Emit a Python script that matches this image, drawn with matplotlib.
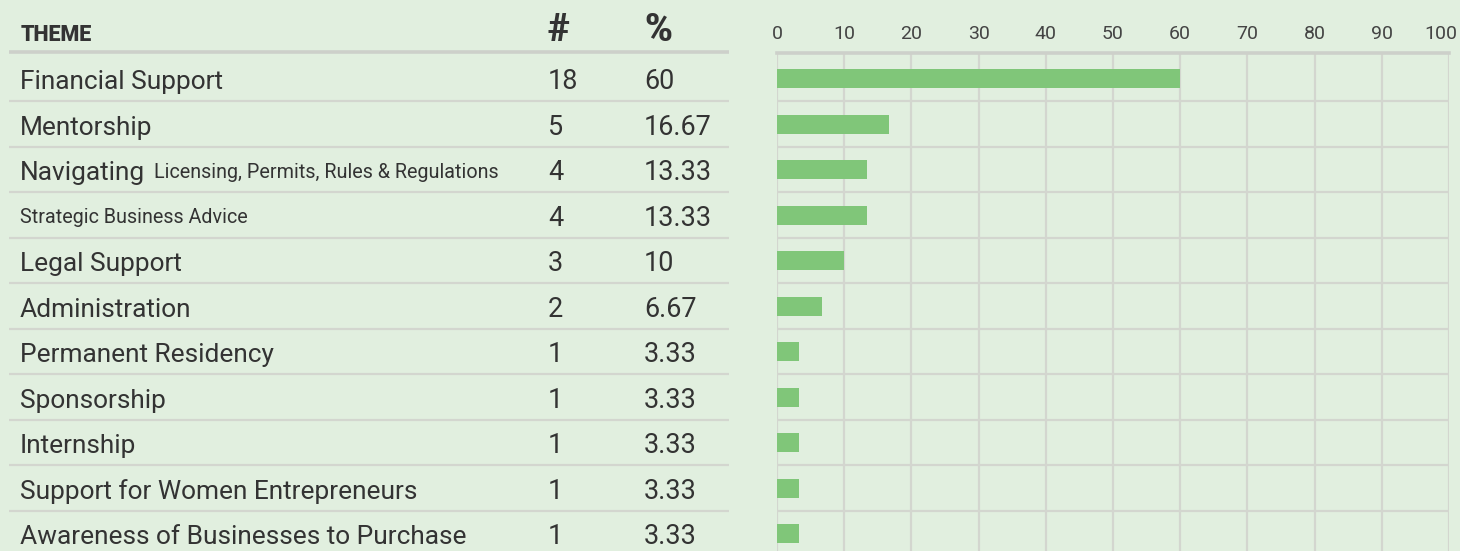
import numpy as np
import matplotlib
matplotlib.use('Agg')
from matplotlib import pyplot as plt
from matplotlib.transforms import ScaledTranslation

# table / chart data
themes_big = ['Financial Support', 'Mentorship', 'Navigating', '', 'Legal Support',
              'Administration', 'Permanent Residency', 'Sponsorship', 'Internship',
              'Support for Women Entrepreneurs', 'Awareness of Businesses to Purchase']
themes_small = ['', '', 'Licensing, Permits, Rules & Regulations', 'Strategic Business Advice',
                '', '', '', '', '', '', '']
counts = [18, 5, 4, 4, 3, 2, 1, 1, 1, 1, 1]
pcts = ['60', '16.67', '13.33', '13.33', '10', '6.67', '3.33', '3.33', '3.33', '3.33', '3.33']
pct_vals = [float(p) for p in pcts]
xticks = list(range(0, 101, 10))

BG = '#e1efdf'
BAR = '#80c679'
GRID = '#d3d6cf'
TXT = '#333333'

plt.rcParams['font.family'] = ['Roboto', 'DejaVu Sans']

W, H = 1460, 551
fig = plt.figure(figsize=(W / 100, H / 100), dpi=100, facecolor=BG)
r = fig.canvas.get_renderer()

# row geometry in pixels (from top)
top_px = 52.5
first_line = 101.5
row_h = 45.5
y_top = 0.5 - (first_line - top_px) / row_h
y_bot = 9.5 + (H - (first_line + 9 * row_h)) / row_h
n = len(counts)
rows = np.arange(n)

def fit_size(s, target_px, base=20, **kw):
    # font size that gives the text the width it has in the source
    t = fig.text(0, 0, s, fontsize=base, **kw)
    w = t.get_window_extent(r).width
    t.remove()
    return base * target_px / w

def main():
    big = fit_size('Awareness of Businesses to Purchase', 445)
    small = fit_size('Licensing, Permits, Rules & Regulations', 344)
    num = fit_size('16.67', 68)
    sym = fit_size('%', 28, fontweight='bold')

    ax_t = fig.add_axes([0, 0, 1, (H - top_px) / H])
    ax_t.set_xlim(0, W)
    ax_t.set_ylim(y_bot, y_top)
    ax_t.axis('off')

    ax = fig.add_axes([777 / W, 0, (1449 - 777) / W, (H - top_px) / H])
    setup_bars(ax, 14)

    # table lines
    ax_t.hlines(rows[:-1] + 0.5, 9, 729, color=GRID, lw=1.6)
    ax_t.hlines([y_top], 9, 729, color='#cdd0ca', lw=2.6, clip_on=False)

    # header
    hy = 0.5 - (first_line - 41) / row_h
    ax_t.text(21, hy, 'THEME', fontsize=15.5, fontweight='heavy', color=TXT, va='baseline', clip_on=False)
    ax_t.text(548, hy, '#', fontsize=sym, fontweight='heavy', color=TXT, va='baseline', clip_on=False)
    ax_t.text(644, hy, '%', fontsize=sym, fontweight='heavy', color=TXT, va='baseline', clip_on=False)

    def base_off(size_pt):
        cap = 0.711 * size_pt * 100 / 72
        return (cap / 2 + 1) / row_h

    for i in rows:
        x = 20
        if themes_big[i]:
            t = ax_t.text(x, i + base_off(big), themes_big[i], fontsize=big, color=TXT, va='baseline')
            x = t.get_window_extent(r).x1 + 9
        if themes_small[i]:
            ax_t.text(x, i + base_off(small), themes_small[i], fontsize=small, color=TXT, va='baseline')
        ax_t.text(548, i + base_off(num), str(counts[i]), fontsize=num, color=TXT, va='baseline')
        ax_t.text(644, i + base_off(num), pcts[i], fontsize=num, color=TXT, va='baseline')

    plt.savefig('out.png', dpi=100, facecolor=BG)

def setup_bars(ax, tick):
    ax.set_facecolor(BG)
    ax.barh(rows, pct_vals, height=0.42, color=BAR, zorder=3)
    ax.set_xlim(0, 100)
    ax.set_ylim(y_bot, y_top)
    ax.xaxis.tick_top()
    ax.set_xticks(xticks)
    ax.set_yticks([])
    ax.tick_params(axis='x', length=0, pad=7, labelsize=tick, labelcolor='#444444')
    ax.grid(axis='x', color=GRID, lw=1.6, zorder=1)
    ax.hlines(rows[:-1] + 0.5, 0, 100, color=GRID, lw=1.6, zorder=1)
    for s in ['left', 'right', 'bottom']:
        ax.spines[s].set_visible(False)
    ax.spines['top'].set_color('#cdd0ca')
    ax.spines['top'].set_linewidth(2.6)
    # keep the last label inside the picture
    last = ax.get_xticklabels()[-1]
    last.set_transform(last.get_transform() + ScaledTranslation(-8 / 100, 0, fig.dpi_scale_trans))

main()
